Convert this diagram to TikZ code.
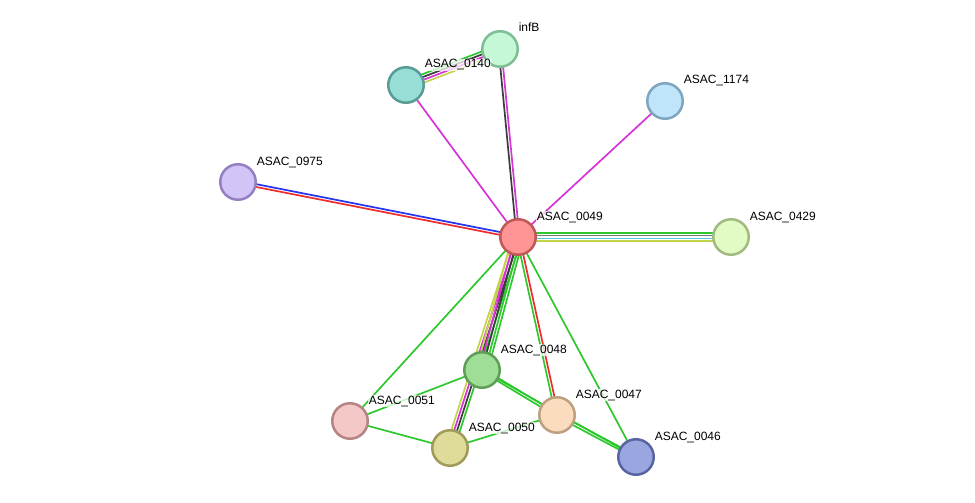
\documentclass[tikz,border=0pt]{standalone}
\usepackage{fontspec}
\setmainfont{Liberation Sans}
\usepackage{tikz}
\usetikzlibrary{calc, backgrounds}

\definecolor{nbgreen}{RGB}{46,200,46}
\definecolor{expmag}{RGB}{214,52,214}
\definecolor{coexp}{RGB}{60,60,60}
\definecolor{txtyel}{RGB}{196,212,72}
\definecolor{dbcyan}{RGB}{86,196,222}
\definecolor{fusred}{RGB}{240,44,44}
\definecolor{cooblue}{RGB}{36,52,240}

% one coloured line between two proteins, shifted sideways by #3
\newcommand{\strlink}[4]{\draw[line width=1.7pt, #4] ($(#1)!#3!90:(#2)$) -- ($(#2)!#3!-90:(#1)$);}

\begin{document}
\begin{tikzpicture}[x=1pt, y=-1pt,
    prot/.style={circle, draw, line width=2.5pt, minimum size=35.5pt, inner sep=0pt},
    lbl/.style={anchor=base west, fill=white, fill opacity=0.75, text opacity=1, inner sep=0.6pt, font=\fontsize{12}{14}\selectfont}]

\useasboundingbox (0,0) rectangle (975,503);

\node[prot, fill={rgb,255:red,196;green,248;blue,214}, draw={rgb,255:red,126;green,190;blue,148}] (infB) at (500,49) {};
\node[prot, fill={rgb,255:red,150;green,222;blue,214}, draw={rgb,255:red,88;green,156;blue,150}] (a0140) at (406,85) {};
\node[prot, fill={rgb,255:red,192;green,229;blue,250}, draw={rgb,255:red,126;green,166;blue,190}] (a1174) at (665,101) {};
\node[prot, fill={rgb,255:red,211;green,196;blue,248}, draw={rgb,255:red,148;green,128;blue,192}] (a0975) at (238,182) {};
\node[prot, fill={rgb,255:red,255;green,148;blue,148}, draw={rgb,255:red,192;green,88;blue,88}] (a0049) at (518,237) {};
\node[prot, fill={rgb,255:red,226;green,251;blue,196}, draw={rgb,255:red,160;green,186;blue,127}] (a0429) at (731,237) {};
\node[prot, fill={rgb,255:red,158;green,222;blue,150}, draw={rgb,255:red,95;green,158;blue,87}] (a0048) at (482,370) {};
\node[prot, fill={rgb,255:red,252;green,220;blue,191}, draw={rgb,255:red,188;green,160;blue,128}] (a0047) at (557,415) {};
\node[prot, fill={rgb,255:red,245;green,200;blue,200}, draw={rgb,255:red,181;green,132;blue,132}] (a0051) at (350,421) {};
\node[prot, fill={rgb,255:red,222;green,220;blue,152}, draw={rgb,255:red,158;green,156;blue,88}] (a0050) at (450,448) {};
\node[prot, fill={rgb,255:red,154;green,166;blue,224}, draw={rgb,255:red,88;green,101;blue,160}] (a0046) at (636,457) {};

\node[lbl] (tinfB) at ([shift={(18,-17)}]infB.center) {infB};
\node[lbl] (t0140) at ([shift={(18,-17)}]a0140.center) {ASAC\_0140};
\node[lbl] (t1174) at ([shift={(18,-17)}]a1174.center) {ASAC\_1174};
\node[lbl] (t0975) at ([shift={(18,-17)}]a0975.center) {ASAC\_0975};
\node[lbl] (t0049) at ([shift={(18,-17)}]a0049.center) {ASAC\_0049};
\node[lbl] (t0429) at ([shift={(18,-17)}]a0429.center) {ASAC\_0429};
\node[lbl] (t0048) at ([shift={(18,-17)}]a0048.center) {ASAC\_0048};
\node[lbl] (t0047) at ([shift={(18,-17)}]a0047.center) {ASAC\_0047};
\node[lbl] (t0051) at ([shift={(18,-17)}]a0051.center) {ASAC\_0051};
\node[lbl] (t0050) at ([shift={(18,-17)}]a0050.center) {ASAC\_0050};
\node[lbl] (t0046) at ([shift={(18,-17)}]a0046.center) {ASAC\_0046};

\begin{pgfonlayer}{background}
% hub
\strlink{a0049}{a0429}{4.2pt}{nbgreen}
\strlink{a0049}{a0429}{1.4pt}{coexp!70}
\strlink{a0049}{a0429}{-1.4pt}{dbcyan}
\strlink{a0049}{a0429}{-4.2pt}{txtyel}
\strlink{a0049}{a0975}{-1.4pt}{cooblue}
\strlink{a0049}{a0975}{1.4pt}{fusred}
\strlink{a0049}{infB}{1.4pt}{coexp}
\strlink{a0049}{infB}{-1.4pt}{expmag}
\strlink{a0049}{a0140}{0pt}{expmag}
\strlink{a0049}{a1174}{0pt}{expmag}
\strlink{a0140}{infB}{4.2pt}{nbgreen}
\strlink{a0140}{infB}{1.4pt}{coexp}
\strlink{a0140}{infB}{-1.4pt}{expmag}
\strlink{a0140}{infB}{-4.2pt}{txtyel}
% operon
\strlink{a0049}{a0050}{-4.2pt}{txtyel}
\strlink{a0049}{a0050}{-1.4pt}{expmag}
\strlink{a0049}{a0050}{1.4pt}{coexp}
\strlink{a0049}{a0050}{4.2pt}{nbgreen}
\strlink{a0049}{a0048}{-5.6pt}{txtyel}
\strlink{a0049}{a0048}{-2.8pt}{expmag}
\strlink{a0049}{a0048}{0pt}{coexp}
\strlink{a0049}{a0048}{2.8pt}{nbgreen}
\strlink{a0049}{a0048}{5.6pt}{nbgreen}
\strlink{a0049}{a0047}{-1.4pt}{nbgreen}
\strlink{a0049}{a0047}{1.4pt}{fusred}
\strlink{a0049}{a0046}{0pt}{nbgreen}
\strlink{a0049}{a0051}{0pt}{nbgreen}
\strlink{a0048}{a0051}{0pt}{nbgreen}
\strlink{a0051}{a0050}{0pt}{nbgreen}
\strlink{a0050}{a0047}{0pt}{nbgreen}
\strlink{a0048}{a0047}{1.4pt}{nbgreen}
\strlink{a0048}{a0047}{-1.4pt}{nbgreen}
\strlink{a0047}{a0046}{1.4pt}{nbgreen}
\strlink{a0047}{a0046}{-1.4pt}{nbgreen}
\strlink{a0048}{a0046}{0pt}{nbgreen}
\end{pgfonlayer}
\end{tikzpicture}
\end{document}
